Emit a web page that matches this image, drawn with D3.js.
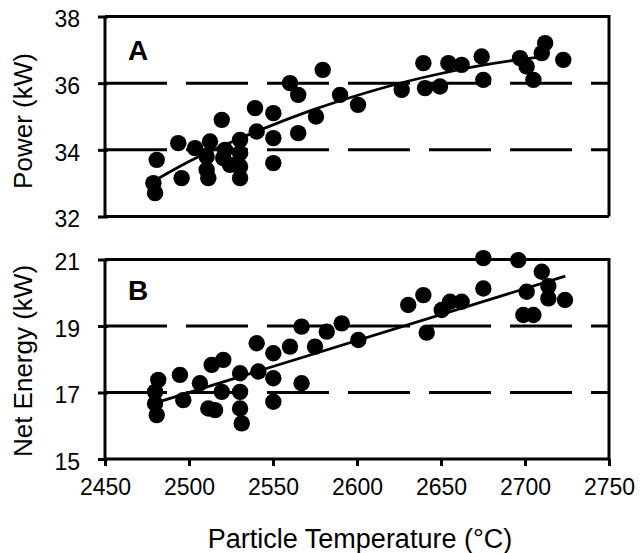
<!DOCTYPE html>
<html><head><meta charset="utf-8">
<script src="https://cdn.jsdelivr.net/npm/d3@7"></script>
<style>body{margin:0;background:#fff}svg{display:block}text{font-family:"Liberation Sans",Arial,sans-serif;fill:#000}</style>
</head><body><svg id="c" width="644" height="553"></svg>
<script>
const xTicks = [2450, 2500, 2550, 2600, 2650, 2700, 2750];
const powerTicks = [32, 34, 36, 38];
const netTicks = [15, 17, 19, 21];
const powerGrid = [34, 36];
const netGrid = [17, 19];

const tempA = [2480.8, 2478.8, 2479.8, 2493.6, 2495.6, 2503.6, 2512.5, 2510.5, 2510.5, 2511.5,
  2519.5, 2521.4, 2520.4, 2524.4, 2530.4, 2530.4, 2530.4, 2530.4, 2539.3, 2540.3,
  2550.2, 2550.2, 2550.2, 2560.1, 2565, 2565, 2579.6, 2575.6, 2589.9, 2600.6,
  2626.6, 2639.5, 2640.5, 2649.4, 2654.4, 2662.3, 2674.2, 2675.2, 2697, 2701,
  2705, 2710, 2712, 2722.8];
const powerA = [33.7, 33.0, 32.7, 34.2, 33.15, 34.05, 34.25, 33.8, 33.4, 33.15,
  34.9, 34.0, 33.75, 33.55, 34.3, 33.9, 33.5, 33.15, 35.25, 34.55,
  35.1, 34.35, 33.6, 36.0, 35.65, 34.5, 36.4, 35.0, 35.65, 35.35,
  35.8, 36.6, 35.85, 35.9, 36.6, 36.55, 36.8, 36.1, 36.75, 36.5,
  36.1, 36.9, 37.2, 36.7];

const tempB = [2481.7, 2479.8, 2479.8, 2480.8, 2494.6, 2496.6, 2506.5, 2513.5, 2520.4, 2511.5,
  2515.5, 2519.5, 2530.4, 2530.4, 2530.4, 2531.4, 2540.3, 2541.3, 2550.2, 2550.2,
  2550.2, 2560.1, 2567, 2567, 2575, 2582, 2590.9, 2600.8, 2630.5, 2639.5,
  2641.5, 2650.4, 2655.4, 2662.3, 2675.2, 2675.2, 2696, 2699, 2705, 2701,
  2710, 2713.9, 2713.9, 2723.8];
const netB = [17.38, 17.02, 16.67, 16.32, 17.53, 16.77, 17.28, 17.83, 17.98, 16.52,
  16.47, 17.02, 17.58, 17.02, 16.52, 16.07, 18.48, 17.63, 18.18, 17.43,
  16.72, 18.38, 18.98, 17.28, 18.38, 18.83, 19.08, 18.58, 19.63, 19.93,
  18.8, 19.48, 19.73, 19.73, 21.04, 20.13, 20.98, 19.33, 19.33, 20.03,
  20.63, 20.2, 19.83, 19.78];

const trendTempA = [2482, 2500, 2525, 2550, 2575, 2600, 2625, 2650, 2675, 2700, 2712];
const trendPowerA = [33.15, 33.65, 34.23, 34.75, 35.22, 35.63, 35.99, 36.29, 36.54, 36.73, 36.8];
const trendTempB = [2482, 2724];
const trendNetB = [16.72, 20.5];

const svg = d3.select("#c");
const X0 = 105, X1 = 609;
const x = d3.scaleLinear().domain([2450, 2750]).range([X0, X1]);
const yA = d3.scaleLinear().domain([32, 38]).range([216.5, 16.5]);
const yB = d3.scaleLinear().domain([15, 21]).range([459, 259.5]);

function panel(y, ticks, grid, temps, vals, tT, tV, letter, letterY, title, titleY, showX) {
  const g = svg.append("g");
  const [ymin, ymax] = y.domain();
  g.selectAll(".grid").data(grid).enter().append("line")
    .attr("x1", X0).attr("x2", X1).attr("y1", d => y(d)).attr("y2", d => y(d))
    .attr("stroke", "#000").attr("stroke-width", 3).attr("stroke-dasharray", "62,19");
  g.append("path")
    .attr("d", `M${X0},${y(ymax)}H${X1}V${y(ymin)}`)
    .attr("fill", "none").attr("stroke", "#000").attr("stroke-width", 3);
  const ay = d3.axisLeft(y).tickValues(ticks).tickSize(0).tickPadding(0).tickFormat(d3.format("d"));
  const ga = g.append("g").attr("transform", `translate(${X0},0)`).call(ay);
  ga.select(".domain").attr("stroke", "#000").attr("stroke-width", 3)
    .attr("d", `M0,${y(ymin)}V${y(ymax)}`);
  ga.selectAll(".tick line").attr("x1", -7).attr("x2", 3).attr("stroke", "#000").attr("stroke-width", 3);
  ga.selectAll(".tick text").attr("x", -25).attr("dy", "0.45em")
    .style("font-size", "23px").style("font-family", "Liberation Sans, Arial, sans-serif").attr("fill", "#000");
  const ax = d3.axisBottom(x).tickValues(xTicks).tickSize(showX ? 7 : 0).tickPadding(13)
    .tickFormat(showX ? d3.format("d") : () => "");
  const gx = g.append("g").attr("transform", `translate(0,${y(ymin)})`).call(ax);
  gx.select(".domain").attr("stroke", "#000").attr("stroke-width", 3).attr("d", `M${X0},0H${X1}`);
  gx.selectAll(".tick line").attr("stroke", "#000").attr("stroke-width", 3);
  gx.selectAll(".tick text").style("font-size", "23px")
    .style("font-family", "Liberation Sans, Arial, sans-serif").attr("fill", "#000");
  const line = d3.line().x(d => x(d[0])).y(d => y(d[1])).curve(d3.curveMonotoneX);
  g.append("path").datum(tT.map((t, i) => [t, tV[i]])).attr("d", line)
    .attr("fill", "none").attr("stroke", "#000").attr("stroke-width", 2.8);
  g.selectAll(".pt").data(temps.map((t, i) => [t, vals[i]])).enter().append("circle")
    .attr("cx", d => x(d[0])).attr("cy", d => y(d[1])).attr("r", 8.2).attr("fill", "#000");
  g.append("text").attr("x", 128).attr("y", letterY).text(letter)
    .style("font-size", "28px").style("font-weight", "bold");
  g.append("text").attr("transform", `translate(32,${titleY}) rotate(-90)`)
    .attr("text-anchor", "middle").style("font-size", "26px").text(title);
}

panel(yA, powerTicks, powerGrid, tempA, powerA, trendTempA, trendPowerA, "A", 60, "Power (kW)", 121, false);
panel(yB, netTicks, netGrid, tempB, netB, trendTempB, trendNetB, "B", 300, "Net Energy (kW)", 361, true);

svg.append("text").attr("x", 360).attr("y", 548).attr("text-anchor", "middle")
  .style("font-size", "27px").text("Particle Temperature (°C)");
</script></body></html>
